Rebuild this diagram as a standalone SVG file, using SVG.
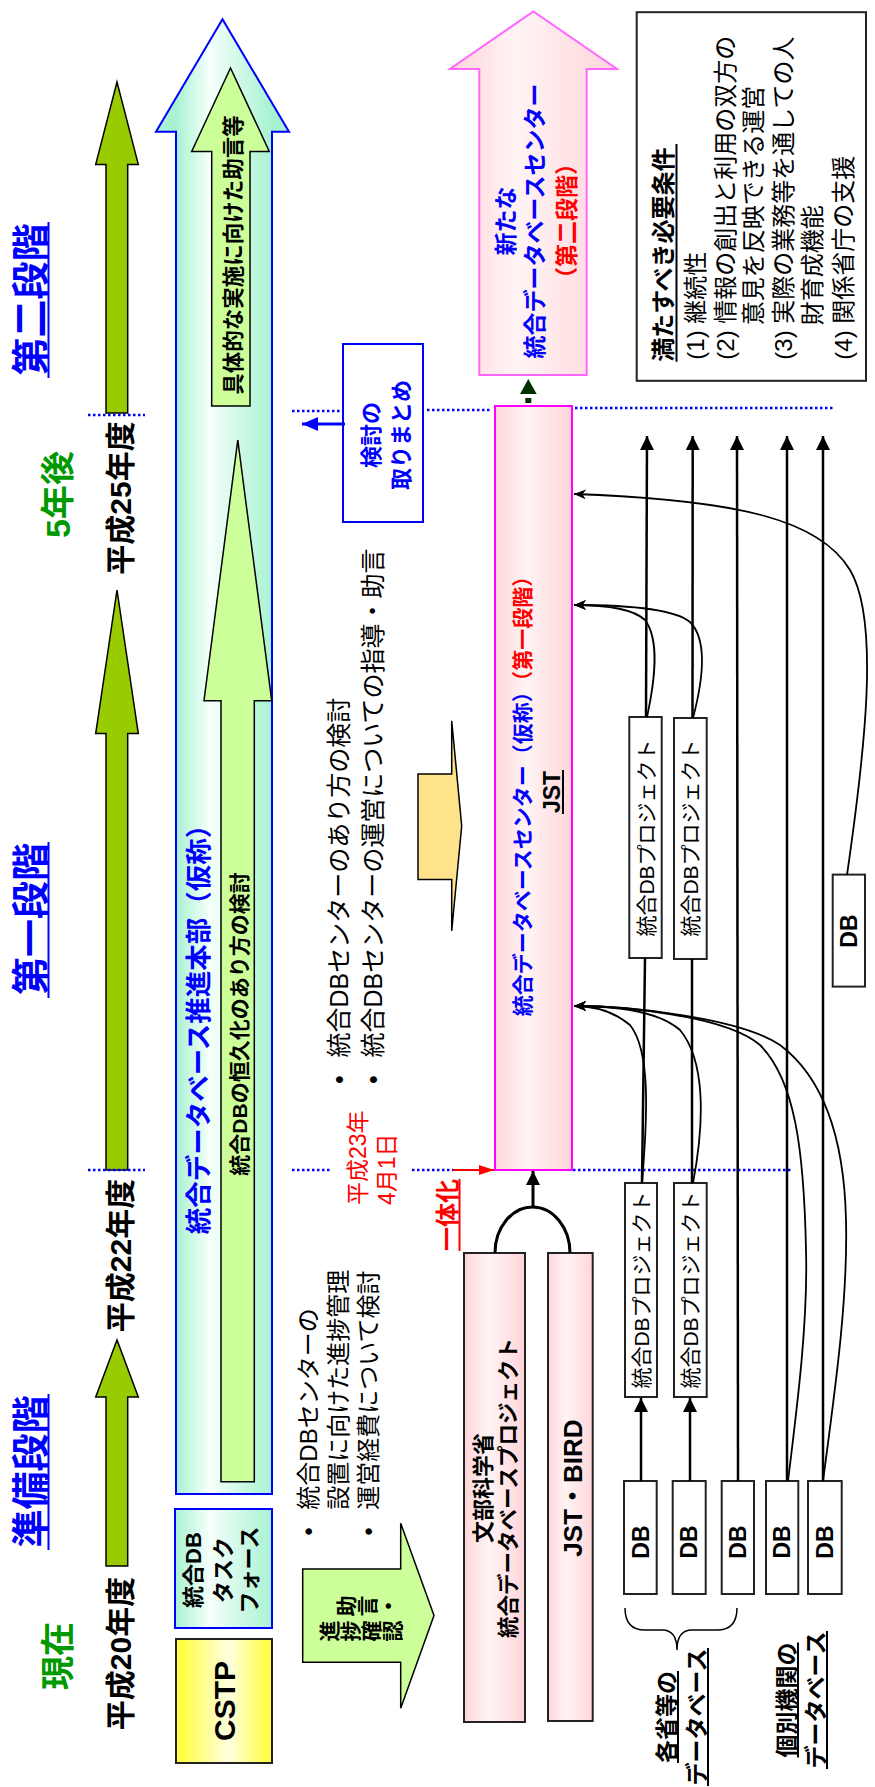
<svg xmlns="http://www.w3.org/2000/svg" width="875" height="1787" viewBox="0 0 875 1787">
<defs>
<linearGradient id="gCy" gradientUnits="userSpaceOnUse" x1="176" y1="0" x2="272" y2="0"><stop offset="0" stop-color="#A8F2D2"/><stop offset="0.35" stop-color="#F6FFFB"/><stop offset="1" stop-color="#A8F2D2"/></linearGradient>
<linearGradient id="gPk" x1="0" y1="0" x2="1" y2="0"><stop offset="0" stop-color="#FFD5D8"/><stop offset="0.4" stop-color="#FFF4F5"/><stop offset="1" stop-color="#FFD5D8"/></linearGradient>
<linearGradient id="gYl" x1="0" y1="0" x2="1" y2="0"><stop offset="0" stop-color="#FFFF33"/><stop offset="0.55" stop-color="#FFFFE0"/><stop offset="1" stop-color="#FFFF33"/></linearGradient>
<marker id="ah" markerUnits="userSpaceOnUse" markerWidth="16" markerHeight="16" refX="14" refY="7" orient="auto"><path d="M0,0 L14,7 L0,14 z" fill="#000"/></marker>
<marker id="as" markerUnits="userSpaceOnUse" markerWidth="14" markerHeight="12" refX="12" refY="5" orient="auto"><path d="M0,0 L12,5 L0,10 L3.5,5 z" fill="#000"/></marker>
<marker id="ar" markerUnits="userSpaceOnUse" markerWidth="16" markerHeight="12" refX="15" refY="5" orient="auto"><path d="M0,0 L15,5 L0,10 z" fill="#FF0000"/></marker>
<marker id="ab" markerUnits="userSpaceOnUse" markerWidth="18" markerHeight="16" refX="16" refY="7" orient="auto"><path d="M0,0 L16,7 L0,14 z" fill="#0000FF"/></marker>
</defs>
<style>
text { font-family: 'Liberation Sans','Noto Sans CJK JP',sans-serif; fill:#000; }
.b { font-weight: bold; }
.blue { fill:#0000FF; }
.red { fill:#FF0000; }
.grn { fill:#009900; }
.dot { stroke:#0000FF; stroke-width:2.5; stroke-dasharray:2.5 2.5; fill:none; }
.conn { stroke:#000; stroke-width:2.5; fill:none; }
.curve { stroke:#000; stroke-width:1.8; fill:none; }
.ol { stroke:#000; stroke-width:1.5; }
.ul { stroke-width:2; }
.box { fill:#fff; stroke:#222; stroke-width:2; }
</style>
<rect width="875" height="1787" fill="#fff"/>

<g id="headers">
<text class="b blue" font-size="38" text-anchor="middle" x="44" y="1471.5" transform="rotate(-90 44 1471.5)">準備段階</text>
<line class="ul" x1="48.5" y1="1394" x2="48.5" y2="1550" stroke="#0000FF"/>
<text class="b blue" font-size="38" text-anchor="middle" x="44" y="919" transform="rotate(-90 44 919)">第一段階</text>
<line class="ul" x1="48.5" y1="842" x2="48.5" y2="998" stroke="#0000FF"/>
<text class="b blue" font-size="38" text-anchor="middle" x="44" y="299.5" transform="rotate(-90 44 299.5)">第二段階</text>
<line class="ul" x1="48.5" y1="222" x2="48.5" y2="378" stroke="#0000FF"/>
<text class="b grn" font-size="34" text-anchor="middle" x="70" y="1656" transform="rotate(-90 70 1656)">現在</text>
<text class="b grn" font-size="34" text-anchor="middle" x="70" y="494.5" transform="rotate(-90 70 494.5)">5年後</text>
<text class="b" font-size="30" text-anchor="middle" x="131" y="1653.5" transform="rotate(-90 131 1653.5)">平成20年度</text>
<text class="b" font-size="30" text-anchor="middle" x="131" y="1255.5" transform="rotate(-90 131 1255.5)">平成22年度</text>
<text class="b" font-size="30" text-anchor="middle" x="131" y="498" transform="rotate(-90 131 498)">平成25年度</text>
</g>

<g id="timeline-arrows">
<polygon class="ol" fill="#99CC00" points="106,1566 106,1397 95.7,1397 117,1340 138.3,1397 127.7,1397 127.7,1566"/>
<polygon class="ol" fill="#99CC00" points="106,1170 106,733.6 95.7,733.6 117,590 138.3,733.6 127.7,733.6 127.7,1170"/>
<polygon class="ol" fill="#99CC00" points="106,413 106,164.4 95.7,164.4 117,82 138.3,164.4 127.7,164.4 127.7,413"/>
</g>

<g id="dotted-lines">
<path class="dot" d="M88,1170 H145 M292,1170 H330 M412,1170 H453 M573,1170 H793"/>
<path class="dot" d="M88,415 H145 M292,411 H342 M427,410 H492 M575,408 H835"/>
</g>

<g id="honbu">
<polygon fill="url(#gCy)" stroke="#0000FF" stroke-width="2" points="176,1494 176,131.8 156,131.8 222.5,19.3 289,131.8 272,131.8 272,1494"/>
<text class="b blue" font-size="26.5" text-anchor="middle" x="207.5" y="1023" transform="rotate(-90 207.5 1023)">統合データベース推進本部（仮称）</text>
</g>

<g id="advice-arrow">
<polygon class="ol" fill="#CCFF99" points="211.7,406 211.7,151.5 191.7,151.5 230.5,68 269.3,151.5 250,151.5 250,406"/>
<text class="b" font-size="21.5" text-anchor="middle" x="241" y="255" transform="rotate(-90 241 255)">具体的な実施に向けた助言等</text>
</g>

<g id="permanent-arrow">
<polygon class="ol" fill="#CCFF99" points="221,1481.7 221,700.7 204,700.7 237.8,440 271.7,700.7 254.3,700.7 254.3,1481.7"/>
<text class="b" font-size="21" text-anchor="middle" x="247" y="1024" transform="rotate(-90 247 1024)">統合DBの恒久化のあり方の検討</text>
</g>

<g id="taskforce">
<rect x="175" y="1509" width="97" height="119" fill="url(#gCy)" stroke="#0000FF" stroke-width="2"/>
<text class="b" font-size="22" text-anchor="middle" x="201.4" y="1570" transform="rotate(-90 201.4 1570)">統合DB</text>
<text class="b" font-size="22" text-anchor="middle" x="230.9" y="1570" transform="rotate(-90 230.9 1570)">タスク</text>
<text class="b" font-size="22" text-anchor="middle" x="257.4" y="1570" transform="rotate(-90 257.4 1570)">フォース</text>
</g>

<g id="cstp">
<rect x="176" y="1639" width="96" height="124" fill="url(#gYl)" stroke="#222" stroke-width="2"/>
<text class="b" font-size="30" text-anchor="middle" x="235" y="1701" transform="rotate(-90 235 1701)">CSTP</text>
</g>

<g id="notes-prep">
<text font-size="24" text-anchor="middle" x="316.6" y="1531.6" transform="rotate(-90 316.6 1531.6)">•</text>
<text font-size="24" x="316.6" y="1509.7" transform="rotate(-90 316.6 1509.7)">統合DBセンターの</text>
<text font-size="24" x="346.6" y="1509.7" transform="rotate(-90 346.6 1509.7)">設置に向けた進捗管理</text>
<text font-size="24" text-anchor="middle" x="377" y="1531.6" transform="rotate(-90 377 1531.6)">•</text>
<text font-size="24" x="377" y="1509.7" transform="rotate(-90 377 1509.7)">運営経費について検討</text>
</g>

<g id="notes-stage1">
<text font-size="25" text-anchor="middle" x="347.8" y="1079.7" transform="rotate(-90 347.8 1079.7)">•</text>
<text font-size="25" x="347.8" y="1057.5" transform="rotate(-90 347.8 1057.5)">統合DBセンターのあり方の検討</text>
<text font-size="25" text-anchor="middle" x="382" y="1079.7" transform="rotate(-90 382 1079.7)">•</text>
<text font-size="25" x="382" y="1057.5" transform="rotate(-90 382 1057.5)">統合DBセンターの運営についての指導・助言</text>
</g>

<g id="support-arrow">
<polygon class="ol" fill="#CCFF99" points="302.7,1569 400.7,1569 400.7,1523.3 434,1615.5 400.7,1708.3 400.7,1662.3 302.7,1662.3"/>
<text class="b" font-size="21" x="353.5" y="1616.5" rotate="-90">助言・</text>
<text class="b" font-size="21" x="336.5" y="1641.5" rotate="-90">進捗確認</text>
</g>

<g id="date-label">
<text class="red" font-size="23" x="366.2" y="1205" transform="rotate(-90 366.2 1205)">平成23年</text>
<text class="red" font-size="23" x="395.2" y="1205" transform="rotate(-90 395.2 1205)">4月1日</text>
</g>

<g id="ittaika">
<text class="b red" font-size="24" x="455.8" y="1251" transform="rotate(-90 455.8 1251)">一体化</text>
<line class="ul" x1="459.5" y1="1179" x2="459.5" y2="1251" stroke="#FF0000"/>
</g>

<g id="transition-arrow">
<polygon class="ol" fill="#FFE38A" points="418,774 451.7,774 451.7,720.7 461.7,826 451.7,931 451.7,879.6 418,879.6"/>
</g>

<g id="kento-box">
<rect x="343" y="344" width="80" height="178" fill="#fff" stroke="#0000FF" stroke-width="2"/>
<text class="b blue" font-size="22" text-anchor="middle" x="379.4" y="435" transform="rotate(-90 379.4 435)">検討の</text>
<text class="b blue" font-size="22" text-anchor="middle" x="409.4" y="435" transform="rotate(-90 409.4 435)">取りまとめ</text>
</g>

<g id="center-stage2">
<polygon fill="url(#gPk)" stroke="#FF66FF" stroke-width="2" points="479.3,375 479.3,69 450,69 533.3,11.5 617,69 586.7,69 586.7,375"/>
<text class="b blue" font-size="23" text-anchor="middle" x="513.7" y="221" transform="rotate(-90 513.7 221)">新たな</text>
<text class="b blue" font-size="23" text-anchor="middle" x="542.7" y="221" transform="rotate(-90 542.7 221)">統合データベースセンター</text>
<text class="b red" font-size="23" text-anchor="middle" x="574.7" y="221" transform="rotate(-90 574.7 221)">（第二段階）</text>
</g>

<g id="center-stage1">
<rect x="495" y="406" width="77" height="764" fill="url(#gPk)" stroke="#FF00FF" stroke-width="2"/>
<text class="b" font-size="21" text-anchor="middle" x="529.7" y="791" transform="rotate(-90 529.7 791)"><tspan class="blue">統合データベースセンター（仮称）</tspan><tspan class="red">（第一段階）</tspan></text>
<text class="b" font-size="23" text-anchor="middle" x="560" y="792" transform="rotate(-90 560 792)">JST</text>
<line class="ul" x1="563" y1="770" x2="563" y2="814" stroke="#000"/>
</g>

<g id="mext">
<rect x="464" y="1253" width="61" height="469" fill="url(#gPk)" stroke="#222" stroke-width="2"/>
<text class="b" font-size="22" text-anchor="middle" x="491.4" y="1488" transform="rotate(-90 491.4 1488)">文部科学省</text>
<text class="b" font-size="21.5" text-anchor="middle" x="516.4" y="1488" transform="rotate(-90 516.4 1488)">統合データベースプロジェクト</text>
</g>

<g id="jst-bird">
<rect x="548" y="1253" width="44.7" height="468" fill="url(#gPk)" stroke="#222" stroke-width="2"/>
<text class="b" font-size="26" text-anchor="middle" x="581.7" y="1488" transform="rotate(-90 581.7 1488)">JST・BIRD</text>
</g>

<g id="requirements">
<rect x="636.7" y="12.2" width="229.3" height="368.6" fill="#fff" stroke="#222" stroke-width="2"/>
<text class="b" font-size="24" x="672.4" y="361.7" transform="rotate(-90 672.4 361.7)">満たすべき必要条件</text>
<line class="ul" x1="676.5" y1="144" x2="676.5" y2="361.7" stroke="#000"/>
<text font-size="24" x="703.6" y="359.7" transform="rotate(-90 703.6 359.7)">(1) 継続性</text>
<text font-size="24" x="734.1" y="359.7" transform="rotate(-90 734.1 359.7)">(2) 情報の創出と利用の双方の</text>
<text font-size="24" x="762.4" y="325.3" transform="rotate(-90 762.4 325.3)">意見を反映できる運営</text>
<text font-size="24" x="792.4" y="359.7" transform="rotate(-90 792.4 359.7)">(3) 実際の業務等を通しての人</text>
<text font-size="24" x="821.4" y="325.3" transform="rotate(-90 821.4 325.3)">財育成機能</text>
<text font-size="24" x="851.6" y="359.7" transform="rotate(-90 851.6 359.7)">(4) 関係省庁の支援</text>
</g>

<g id="proj-a">
<rect class="box" x="625" y="1183" width="32" height="214"/>
<text font-size="21" text-anchor="middle" x="649" y="1290" transform="rotate(-90 649 1290)">統合DBプロジェクト</text>
</g>
<g id="proj-b">
<rect class="box" x="674" y="1183" width="32.7" height="214"/>
<text font-size="21" text-anchor="middle" x="698.3" y="1290" transform="rotate(-90 698.3 1290)">統合DBプロジェクト</text>
</g>
<g id="proj-c">
<rect class="box" x="629.3" y="717" width="32.4" height="241"/>
<text font-size="21" text-anchor="middle" x="653.5" y="838" transform="rotate(-90 653.5 838)">統合DBプロジェクト</text>
</g>
<g id="proj-d">
<rect class="box" x="674" y="718" width="32.7" height="241"/>
<text font-size="21" text-anchor="middle" x="698.3" y="838" transform="rotate(-90 698.3 838)">統合DBプロジェクト</text>
</g>

<g id="db1"><rect class="box" x="624" y="1481" width="32.7" height="113"/><text class="b" font-size="23" text-anchor="middle" x="648.6" y="1542" transform="rotate(-90 648.6 1542)">DB</text></g>
<g id="db2"><rect class="box" x="672.7" y="1481" width="33" height="113"/><text class="b" font-size="23" text-anchor="middle" x="697.4" y="1542" transform="rotate(-90 697.4 1542)">DB</text></g>
<g id="db3"><rect class="box" x="721.7" y="1481" width="32.3" height="113"/><text class="b" font-size="23" text-anchor="middle" x="746.1" y="1542" transform="rotate(-90 746.1 1542)">DB</text></g>
<g id="db4"><rect class="box" x="766" y="1481" width="32.3" height="113"/><text class="b" font-size="23" text-anchor="middle" x="790.4" y="1542" transform="rotate(-90 790.4 1542)">DB</text></g>
<g id="db5"><rect class="box" x="808" y="1481" width="33.7" height="113"/><text class="b" font-size="23" text-anchor="middle" x="833.1" y="1542" transform="rotate(-90 833.1 1542)">DB</text></g>
<g id="db6"><rect class="box" x="832.7" y="874.6" width="32.3" height="112"/><text class="b" font-size="23" text-anchor="middle" x="857.1" y="931" transform="rotate(-90 857.1 931)">DB</text></g>

<g id="ministry-label">
<path d="M625,1608 Q625,1630 645,1630 L662,1630 Q677,1630 677,1650 Q677,1630 692,1630 L717,1630 Q737,1630 737,1608" fill="none" stroke="#000" stroke-width="1.5"/>
<text class="b" font-size="23" text-anchor="middle" x="674.7" y="1717" transform="rotate(-90 674.7 1717)">各省等の</text>
<line class="ul" x1="678" y1="1671" x2="678" y2="1763" stroke="#000"/>
<text class="b" font-size="23" text-anchor="middle" x="704.7" y="1717" transform="rotate(-90 704.7 1717)">データベース</text>
<line class="ul" x1="708" y1="1648" x2="708" y2="1786" stroke="#000"/>
</g>

<g id="institution-label">
<text class="b" font-size="23" text-anchor="middle" x="794.7" y="1700" transform="rotate(-90 794.7 1700)">個別機関の</text>
<line class="ul" x1="798" y1="1642.5" x2="798" y2="1757.5" stroke="#000"/>
<text class="b" font-size="23" text-anchor="middle" x="823.7" y="1700" transform="rotate(-90 823.7 1700)">データベース</text>
<line class="ul" x1="827" y1="1631" x2="827" y2="1769" stroke="#000"/>
</g>

<g id="connectors">
<line x1="453" y1="1170" x2="494" y2="1170" stroke="#FF0000" stroke-width="1.8" marker-end="url(#ar)"/>
<line x1="345" y1="424" x2="302" y2="424" stroke="#0000FF" stroke-width="3" marker-end="url(#ab)"/>
<rect x="525.3" y="398" width="6" height="5" fill="#003300"/>
<polygon points="528.3,379 520,394 536.7,394" fill="#003300"/>
<path d="M495,1253 A37.5,46 0 0,1 570,1253" fill="none" stroke="#000" stroke-width="3"/>
<line x1="533" y1="1207" x2="533" y2="1171" stroke="#000" stroke-width="3" marker-end="url(#ah)"/>

<line class="conn" x1="641" y1="1481" x2="641" y2="1398" marker-end="url(#ah)"/>
<line class="conn" x1="690" y1="1481" x2="690" y2="1398" marker-end="url(#ah)"/>
<line class="conn" x1="642" y1="1183" x2="645" y2="958"/>
<line class="conn" x1="692" y1="1183" x2="692" y2="959"/>
<line class="conn" x1="646" y1="717" x2="647" y2="436" marker-end="url(#ah)"/>
<line class="conn" x1="692.5" y1="718" x2="692.7" y2="436" marker-end="url(#ah)"/>
<line class="conn" x1="738" y1="1481" x2="737" y2="436" marker-end="url(#ah)"/>
<line class="conn" x1="787" y1="1481" x2="787" y2="436" marker-end="url(#ah)"/>
<line class="conn" x1="823" y1="1481" x2="823" y2="436" marker-end="url(#ah)"/>

<path class="curve" d="M647,717 C655,680 660,640 645,620 C630,606 595,605 574,605" marker-end="url(#as)"/>
<path class="curve" d="M693,718 C703,680 708,640 690,622 C672,607 610,605 574,605" marker-end="url(#as)"/>
<path class="curve" d="M642,1183 C648,1110 650,1050 630,1025 C612,1010 590,1006 574,1006" marker-end="url(#as)"/>
<path class="curve" d="M693,1183 C705,1120 705,1060 680,1030 C655,1008 600,1006 574,1006" marker-end="url(#as)"/>
<path class="curve" d="M788,1481 C798,1400 808,1320 806,1250 C804,1150 795,1080 760,1045 C725,1015 620,1006 574,1006" marker-end="url(#as)"/>
<path class="curve" d="M823,1481 C835,1390 848,1300 846,1220 C844,1130 820,1075 780,1045 C740,1018 630,1006 574,1006" marker-end="url(#as)"/>
<path class="curve" d="M847,875 C865,750 880,620 850,570 C820,520 740,500 574,494" marker-end="url(#as)"/>
</g>
</svg>
